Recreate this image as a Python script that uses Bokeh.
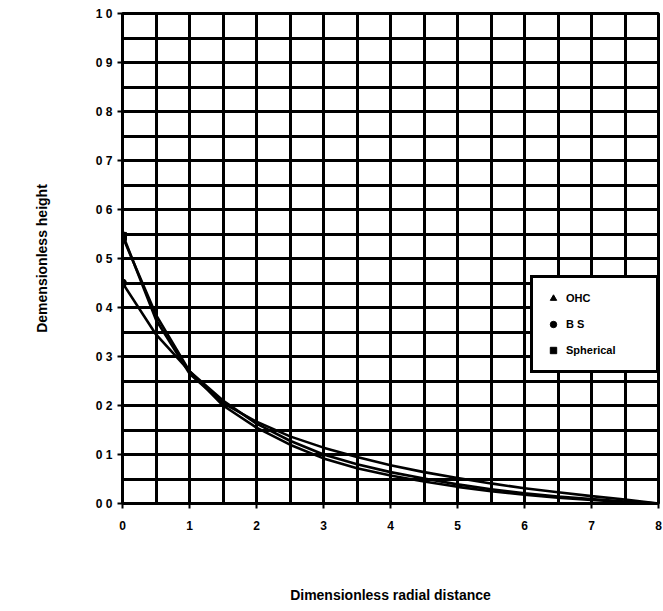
from bokeh.plotting import figure
from bokeh.models import SingleIntervalTicker, Legend, LegendItem
from bokeh.embed import file_html
from bokeh.resources import INLINE

# ---- data ----
x = [0, 0.5, 1, 1.5, 2, 2.5, 3, 3.5, 4, 4.5, 5, 5.5, 6, 6.5, 7, 7.5, 8]
ohc = [0.55, 0.375, 0.265, 0.205, 0.167, 0.137, 0.114, 0.095, 0.078, 0.064, 0.052, 0.041, 0.031, 0.023, 0.015, 0.008, 0.0]
bs = [0.45, 0.345, 0.27, 0.21, 0.163, 0.128, 0.100, 0.080, 0.064, 0.051, 0.039, 0.029, 0.021, 0.014, 0.009, 0.004, 0.0]
spherical = [0.545, 0.385, 0.27, 0.2, 0.155, 0.12, 0.092, 0.072, 0.057, 0.045, 0.034, 0.025, 0.018, 0.012, 0.007, 0.003, 0.0]
series_names = ["OHC", "B S", "Spherical"]
y_tick_values = [0.0, 0.1, 0.2, 0.3, 0.4, 0.5, 0.6, 0.7, 0.8, 0.9, 1.0]
y_tick_labels = ["0 0", "0 1", "0 2", "0 3", "0 4", "0 5", "0 6", "0 7", "0 8", "0 9", "1 0"]

FONT = "Liberation Sans"

p = figure(width=663, height=611, x_range=(0, 8), y_range=(0, 1),
           output_backend="svg", toolbar_location=None,
           min_border_left=122, min_border_right=5, min_border_top=13, min_border_bottom=108)
p.background_fill_color = "white"
p.border_fill_color = "white"
p.outline_line_color = "black"
p.outline_line_width = 3

# grid
p.xgrid.ticker = SingleIntervalTicker(interval=0.5)
p.ygrid.ticker = SingleIntervalTicker(interval=0.05)
for g in (p.xgrid, p.ygrid):
    g.grid_line_color = "black"
    g.grid_line_width = 3
    g.grid_line_alpha = 1.0

# axes
p.xaxis.ticker = SingleIntervalTicker(interval=1)
p.yaxis.ticker = y_tick_values
p.yaxis.major_label_overrides = {v: l for v, l in zip(y_tick_values, y_tick_labels)}
for ax in (p.xaxis, p.yaxis):
    ax.axis_line_color = "black"
    ax.axis_line_width = 3
    ax.major_tick_line_color = "black"
    ax.major_tick_line_width = 2
    ax.major_tick_out = 5
    ax.major_tick_in = 0
    ax.minor_tick_line_color = None
    ax.major_label_text_font = FONT
    ax.major_label_text_font_style = "bold"
    ax.major_label_text_font_size = "12px"
    ax.major_label_text_color = "black"
    ax.axis_label_text_font = FONT
    ax.axis_label_text_font_style = "bold"
    ax.axis_label_text_font_size = "14px"
    ax.axis_label_text_color = "black"

p.xaxis.axis_label = "Dimensionless radial distance"
p.yaxis.axis_label = "Demensionless height"
p.xaxis.major_label_standoff = 12
p.xaxis.axis_label_standoff = 54
p.yaxis.major_label_standoff = 5
p.yaxis.axis_label_standoff = 43

# curves
series = [ohc, bs, spherical]
markers = ["triangle", "circle", "square"]
items = []
for name, ys, mk in zip(series_names, series, markers):
    p.line(x, ys, line_color="black", line_width=2.6)
    r = p.scatter(x[:1], ys[:1], marker=mk, size=8, fill_color="black", line_color="black")
    items.append(LegendItem(label=name, renderers=[r]))

legend = Legend(items=items, location=(408, 130))
legend.border_line_color = "black"
legend.border_line_alpha = 1.0
legend.border_line_width = 3
legend.background_fill_color = "white"
legend.background_fill_alpha = 1.0
legend.label_text_font = FONT
legend.label_text_font_style = "bold"
legend.label_text_font_size = "11px"
legend.label_text_color = "black"
legend.glyph_width = 16
legend.glyph_height = 16
legend.spacing = 10
legend.padding = 12
legend.margin = 0
legend.label_width = 78
p.add_layout(legend, "center")

open("out.html", "w").write(file_html(p, INLINE))
